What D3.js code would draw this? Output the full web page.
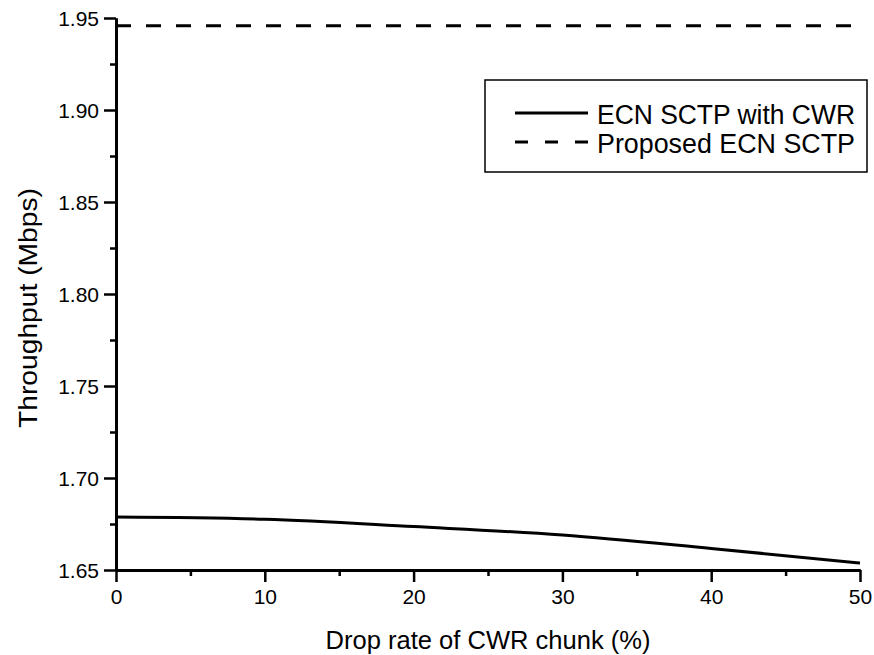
<!DOCTYPE html>
<html>
<head>
<meta charset="utf-8">
<script src="https://cdn.jsdelivr.net/npm/d3@7"></script>
<style>
  body { margin: 0; background: #fff; }
  text { font-family: "Liberation Sans", Arial, sans-serif; fill: #000; }
</style>
</head>
<body>
<div id="chart-container"></div>
<script>
// data
const dropRate = [0, 10, 20, 30, 40, 50];
const ecnWithCwr = [1.6788, 1.6776, 1.6736, 1.669, 1.6617, 1.6538];
const proposedEcn = [1.9458, 1.9458, 1.9458, 1.9458, 1.9458, 1.9458];
const xTicks = [0, 10, 20, 30, 40, 50];
const xMinorTicks = [5, 15, 25, 35, 45];
const yTicks = [1.65, 1.7, 1.75, 1.8, 1.85, 1.9, 1.95];
const yMinorTicks = [1.675, 1.725, 1.775, 1.825, 1.875, 1.925];
const seriesNames = ["ECN SCTP with CWR", "Proposed ECN SCTP"];

// dimensions and margins
const margin = { top: 18, right: 14, bottom: 85, left: 116 };
const width = 874 - margin.left - margin.right;
const height = 655 - margin.top - margin.bottom;

const xScale = d3.scaleLinear().domain([0, 50]).range([0, width]);
const yScale = d3.scaleLinear().domain([1.65, 1.95]).range([height, 0]);

const root = d3
  .select("#chart-container")
  .append("svg")
  .attr("width", 874)
  .attr("height", 655);

const svg = root
  .append("g")
  .attr("transform", `translate(${margin.left}, ${margin.top})`);

// minor ticks first, majors on top
svg
  .append("g")
  .attr("class", "x-minor")
  .attr("transform", `translate(0, ${height})`)
  .call(d3.axisBottom(xScale).tickValues(xMinorTicks).tickSize(6).tickSizeOuter(0).tickFormat(""));

svg
  .append("g")
  .attr("class", "y-minor")
  .call(d3.axisLeft(yScale).tickValues(yMinorTicks).tickSize(6).tickSizeOuter(0).tickFormat(""));

const xAxis = svg
  .append("g")
  .attr("class", "x-axis")
  .attr("transform", `translate(0, ${height})`)
  .call(d3.axisBottom(xScale).tickValues(xTicks).tickSize(12).tickSizeOuter(0).tickPadding(7));

const yAxis = svg
  .append("g")
  .attr("class", "y-axis")
  .call(
    d3
      .axisLeft(yScale)
      .tickValues(yTicks)
      .tickSize(12)
      .tickSizeOuter(0)
      .tickPadding(5)
      .tickFormat(d3.format(".2f"))
  );

svg.selectAll(".domain").attr("stroke", "#000").attr("stroke-width", 3);
svg.selectAll(".tick line").attr("stroke", "#000").attr("stroke-width", 2.5);
svg.selectAll(".x-axis .tick text, .y-axis .tick text").style("font-size", "21px").attr("fill", "#000");
svg.selectAll(".y-axis .tick text").attr("dy", "0.36em");

// lines
const cwrLine = d3
  .line()
  .x((d, i) => xScale(dropRate[i]))
  .y((d) => yScale(d))
  .curve(d3.curveMonotoneX);

svg
  .append("path")
  .datum(ecnWithCwr)
  .attr("fill", "none")
  .attr("stroke", "#000")
  .attr("stroke-width", 3)
  .attr("d", cwrLine);

svg
  .append("path")
  .datum(proposedEcn)
  .attr("fill", "none")
  .attr("stroke", "#000")
  .attr("stroke-width", 3)
  .attr("stroke-dasharray", "15,15")
  .attr("d", cwrLine);

// axis titles
svg
  .append("text")
  .attr("x", width / 2)
  .attr("y", height + 79)
  .attr("text-anchor", "middle")
  .style("font-size", "26px")
  .attr("textLength", 325)
  .attr("lengthAdjust", "spacingAndGlyphs")
  .text("Drop rate of CWR chunk (%)");

svg
  .append("text")
  .attr("transform", `translate(${37 - margin.left}, ${290}) rotate(-90)`)
  .attr("text-anchor", "middle")
  .style("font-size", "26px")
  .attr("textLength", 240)
  .attr("lengthAdjust", "spacingAndGlyphs")
  .text("Throughput (Mbps)");

// legend
const legend = svg.append("g").attr("transform", `translate(${485 - margin.left}, ${80 - margin.top})`);

legend
  .append("rect")
  .attr("width", 382)
  .attr("height", 92)
  .attr("fill", "#fff")
  .attr("stroke", "#000")
  .attr("stroke-width", 1.5);

seriesNames.forEach((name, i) => {
  const y = 33 + i * 29;
  legend
    .append("line")
    .attr("x1", 30)
    .attr("x2", 103)
    .attr("y1", y)
    .attr("y2", y)
    .attr("stroke", "#000")
    .attr("stroke-width", 3)
    .attr("stroke-dasharray", i === 0 ? null : "13,17");
  legend
    .append("text")
    .attr("x", 112)
    .attr("y", y + 11)
    .style("font-size", "27px")
    .attr("textLength", 258)
    .attr("lengthAdjust", "spacingAndGlyphs")
    .text(name);
});
</script>
</body>
</html>
